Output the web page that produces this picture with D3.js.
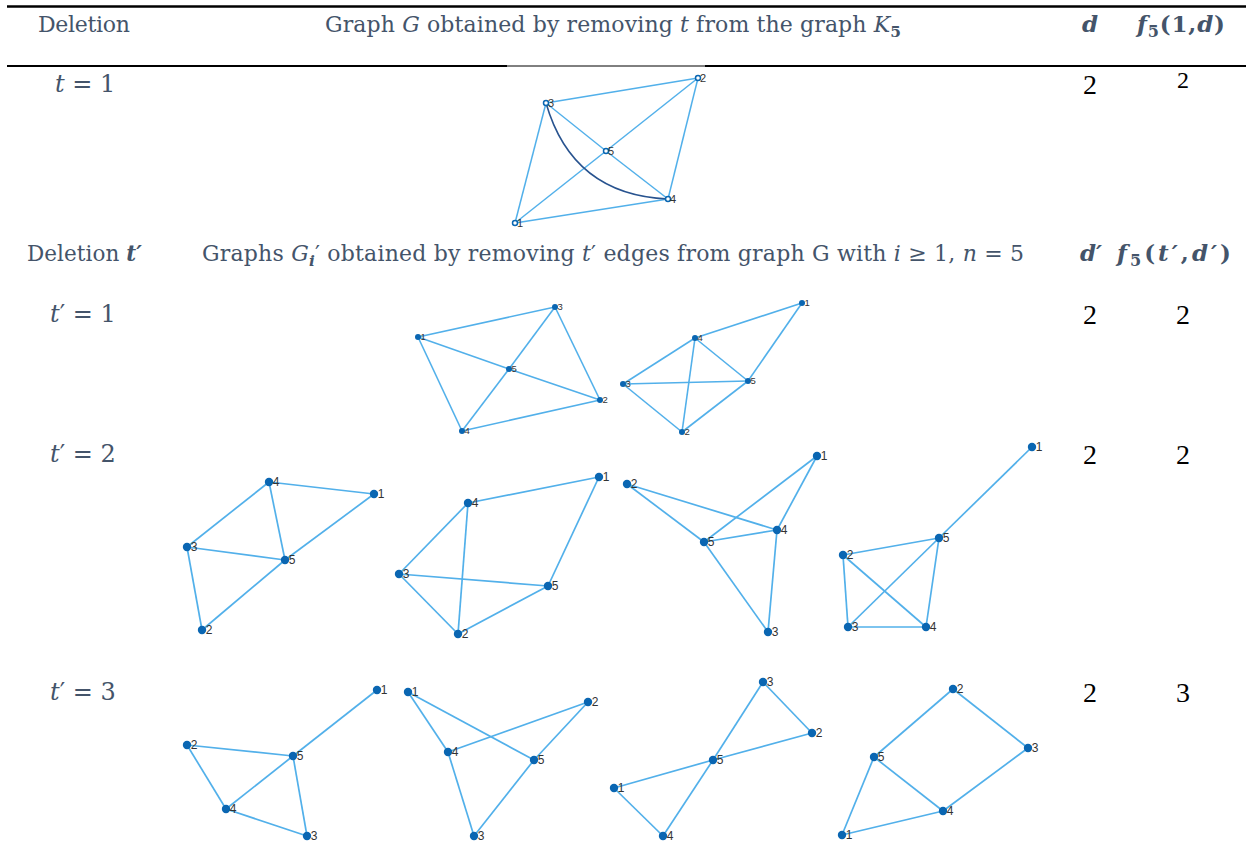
<!DOCTYPE html>
<html lang="en">
<head>
<meta charset="utf-8">
<title>Graphs obtained by deleting edges from K5</title>
<style>
  body { margin: 0; background: #fff; }
  svg { display: block; }
  .hdr { font-family: "DejaVu Serif", serif; fill: #44546a; }
  .num { font-family: "Liberation Serif", "Times New Roman", serif; fill: #000; }
  .nlab { font-family: "Liberation Sans", Arial, sans-serif; fill: #333; }
</style>
</head>
<body>
<svg width="1246" height="842"></svg>
<script src="https://d3js.org/d3.v7.min.js"></script>
<script>
// ---- table values ----
var rowLabels = ["1", "2", "3"];          // t' values
var dValues = [2, 2, 2];
var fValues = [2, 2, 3];
var firstD = 2, firstF = 2;

// ---- graph layouts: [label, x, y] in each panel's own frame, edges as node pairs ----
var nodesG = [[1, 5, 153], [2, 188, 8], [3, 36, 33], [4, 158, 129], [5, 96, 81]];
var edgesG = [[1, 3], [1, 4], [1, 5], [2, 3], [2, 4], [2, 5], [3, 5], [4, 5]];
var curvedG = [[3, 4, 0.18]];   // edge drawn as an arc, with its bend

var nodes1a = [[1, 8, 37], [2, 190, 100], [3, 145, 7], [4, 52, 131], [5, 99, 69]];
var edges1a = [[1, 3], [1, 4], [1, 5], [2, 3], [2, 4], [2, 5], [3, 5], [4, 5]];
var nodes1b = [[1, 187, 3], [2, 67, 132], [3, 8, 84], [4, 80, 38], [5, 133, 81]];
var edges1b = [[1, 4], [1, 5], [2, 3], [2, 4], [2, 5], [3, 4], [3, 5], [4, 5]];

var nodes2a = [[1, 194, 19], [2, 22, 155], [3, 7, 72], [4, 89, 7], [5, 105, 85]];
var edges2a = [[1, 4], [1, 5], [2, 3], [2, 5], [3, 4], [3, 5], [4, 5]];
var nodes2b = [[1, 209, 7], [2, 68, 164], [3, 9, 104], [4, 78, 33], [5, 158, 116]];
var edges2b = [[1, 4], [1, 5], [2, 3], [2, 4], [2, 5], [3, 4], [3, 5]];
var nodes2c = [[1, 197, 11], [2, 7, 39], [3, 148, 187], [4, 157, 85], [5, 84, 97]];
var edges2c = [[1, 4], [1, 5], [2, 4], [2, 5], [3, 4], [3, 5], [4, 5]];
var nodes2d = [[1, 197, 7], [2, 8, 115], [3, 13, 187], [4, 91, 187], [5, 104, 98]];
var edges2d = [[1, 5], [2, 3], [2, 4], [2, 5], [3, 4], [3, 5], [4, 5]];

var nodes3a = [[1, 197, 10], [2, 7, 65], [3, 127, 156], [4, 46, 129], [5, 113, 76]];
var edges3a = [[1, 5], [2, 4], [2, 5], [3, 4], [3, 5], [4, 5]];
var nodes3b = [[1, 8, 7], [2, 188, 17], [3, 74, 151], [4, 48, 67], [5, 134, 75]];
var edges3b = [[1, 4], [1, 5], [2, 4], [2, 5], [3, 4], [3, 5]];
var nodes3c = [[1, 9, 113], [2, 207, 58], [3, 158, 7], [4, 58, 161], [5, 108, 85]];
var edges3c = [[1, 4], [1, 5], [2, 3], [2, 5], [3, 5], [4, 5]];
var nodes3d = [[1, 7, 155], [2, 118, 9], [3, 193, 68], [4, 108, 131], [5, 39, 77]];
var edges3d = [[1, 4], [1, 5], [2, 3], [2, 5], [3, 4], [4, 5]];

var svg = d3.select("svg");
var edgeColor = "#52b0ea", nodeColor = "#0a66b2";

// ---- rules ----
function rule(x1, x2, y, w) {
  svg.append("line").attr("x1", x1).attr("x2", x2).attr("y1", y).attr("y2", y)
    .attr("stroke", "#000").attr("stroke-width", w);
}
rule(7, 1246, 6.5, 2.5);
rule(7, 507, 66, 2.2);
rule(507, 705, 66, 1);
rule(705, 1246, 66, 2.2);

// ---- header text helper: parts = [text, style] ----
function rich(x, y, size, parts, cls, anchor) {
  var t = svg.append("text").attr("class", cls || "hdr").attr("x", x).attr("y", y)
    .attr("font-size", size).attr("text-anchor", anchor || "start");
  parts.forEach(function(p) {
    var s = t.append("tspan").text(p[0]);
    var st = p[1] || "";
    if (st.indexOf("i") >= 0) s.attr("font-style", "italic");
    if (st.indexOf("b") >= 0) s.attr("font-weight", "bold");
    if (st.indexOf("sub") >= 0) s.attr("font-size", size * 0.7).attr("dy", size * 0.22);
    if (st.indexOf("up") >= 0) s.attr("dy", -size * 0.22);
  });
  return t;
}

// header row 1
rich(38, 32, 22, [["Deletion"]]).attr("textLength", 92);
rich(325, 32, 22, [["Graph "], ["G", "i"], [" obtained by removing "], ["t", "i"],
  [" from the graph "], ["K", "i"], ["5", "sub"]]).attr("textLength", 576);
rich(1090, 32, 23, [["d", "ib"]], "hdr", "middle");
rich(1137, 32, 23, [["f", "ib"], ["5", "b sub"], ["(", "b up"], ["1,", "b"], ["d", "ib"], [")", "b"]])
  .attr("textLength", 88);

// t = 1 row
rich(55, 92, 24, [["t", "i"], [" = 1"]]);
svg.append("text").attr("class", "num").attr("x", 1090).attr("y", 94).attr("font-size", 28)
  .attr("text-anchor", "middle").text(firstD);
svg.append("text").attr("class", "num").attr("x", 1183).attr("y", 88).attr("font-size", 24)
  .attr("text-anchor", "middle").text(firstF);

// header row 2
rich(27, 261, 21.5, [["Deletion "], ["t′", "ib"]]).attr("textLength", 115);
rich(202, 261, 22, [["Graphs "], ["G", "i"], ["i", "i sub"], ["′", "up"], [" obtained by removing "],
  ["t", "i"], ["′ edges from graph G with "], ["i", "i"], [" ≥ 1, "], ["n", "i"], [" = 5"]])
  .attr("textLength", 822);
rich(1080, 261, 23, [["d′", "ib"]]);
rich(1117, 261, 23, [["f", "ib"], ["5", "b sub"], ["(", "b up"], ["t′", "ib"], [",", "b"], ["d′", "ib"], [")", "b"]])
  .attr("textLength", 114);

// t' rows
var rowY = d3.scaleOrdinal().domain(rowLabels).range([322, 462, 700]);
rowLabels.forEach(function(r, i) {
  rich(50, rowY(r), 24, [["t", "i"], ["′ = " + r]]);
  svg.append("text").attr("class", "num").attr("x", 1090).attr("y", rowY(r) + 2).attr("font-size", 28)
    .attr("text-anchor", "middle").text(dValues[i]);
  svg.append("text").attr("class", "num").attr("x", 1183).attr("y", rowY(r) + 2).attr("font-size", 28)
    .attr("text-anchor", "middle").text(fValues[i]);
});

// ---- graph drawing ----
function drawGraph(nodes, edges, ox, oy, opt) {
  var x = d3.scaleLinear().domain([0, 250]).range([ox, ox + 250]);
  var y = d3.scaleLinear().domain([0, 200]).range([oy, oy + 200]);
  var pos = {};
  nodes.forEach(function(n) { pos[n[0]] = [x(n[1]), y(n[2])]; });
  var g = svg.append("g");

  g.selectAll("line.e").data(edges).enter().append("line")
    .attr("x1", function(d) { return pos[d[0]][0]; })
    .attr("y1", function(d) { return pos[d[0]][1]; })
    .attr("x2", function(d) { return pos[d[1]][0]; })
    .attr("y2", function(d) { return pos[d[1]][1]; })
    .attr("stroke", edgeColor).attr("stroke-width", opt.ew);

  if (opt.curved) {
    g.selectAll("path.c").data(opt.curved).enter().append("path")
      .attr("d", function(d) {
        var a = pos[d[0]], b = pos[d[1]];
        var mx = (a[0] + b[0]) / 2, my = (a[1] + b[1]) / 2;
        var dx = b[0] - a[0], dy = b[1] - a[1];
        // control point pushed along the normal
        var cx = mx - dy * d[2] * 2, cy = my + dx * d[2] * 2;
        return "M" + a[0] + "," + a[1] + "Q" + cx + "," + cy + " " + b[0] + "," + b[1];
      })
      .attr("fill", "none").attr("stroke", "#28538f").attr("stroke-width", 1.6);
  }

  g.selectAll("circle").data(nodes).enter().append("circle")
    .attr("cx", function(d) { return x(d[1]); })
    .attr("cy", function(d) { return y(d[2]); })
    .attr("r", opt.r)
    .attr("fill", opt.open ? "#fff" : nodeColor)
    .attr("stroke", nodeColor).attr("stroke-width", opt.open ? 1.5 : 0);

  g.selectAll("text").data(nodes).enter().append("text")
    .attr("class", "nlab")
    .attr("x", function(d) { return x(d[1]) + opt.r - 0.5; })
    .attr("y", function(d) { return y(d[2]) + opt.fs * 0.36; })
    .attr("font-size", opt.fs)
    .text(function(d) { return d[0]; });
}

var openOpt = { r: 2.5, ew: 1.5, fs: 11, open: true, curved: curvedG };
var smallOpt = { r: 3, ew: 1.6, fs: 9.5 };
var bigOpt = { r: 4.2, ew: 1.7, fs: 12 };

drawGraph(nodesG, edgesG, 510, 70, openOpt);
drawGraph(nodes1a, edges1a, 410, 300, smallOpt);
drawGraph(nodes1b, edges1b, 615, 300, smallOpt);
drawGraph(nodes2a, edges2a, 180, 475, bigOpt);
drawGraph(nodes2b, edges2b, 390, 470, bigOpt);
drawGraph(nodes2c, edges2c, 620, 445, bigOpt);
drawGraph(nodes2d, edges2d, 835, 440, bigOpt);
drawGraph(nodes3a, edges3a, 180, 680, bigOpt);
drawGraph(nodes3b, edges3b, 400, 685, bigOpt);
drawGraph(nodes3c, edges3c, 605, 675, bigOpt);
drawGraph(nodes3d, edges3d, 835, 680, bigOpt);
</script>
</body>
</html>
